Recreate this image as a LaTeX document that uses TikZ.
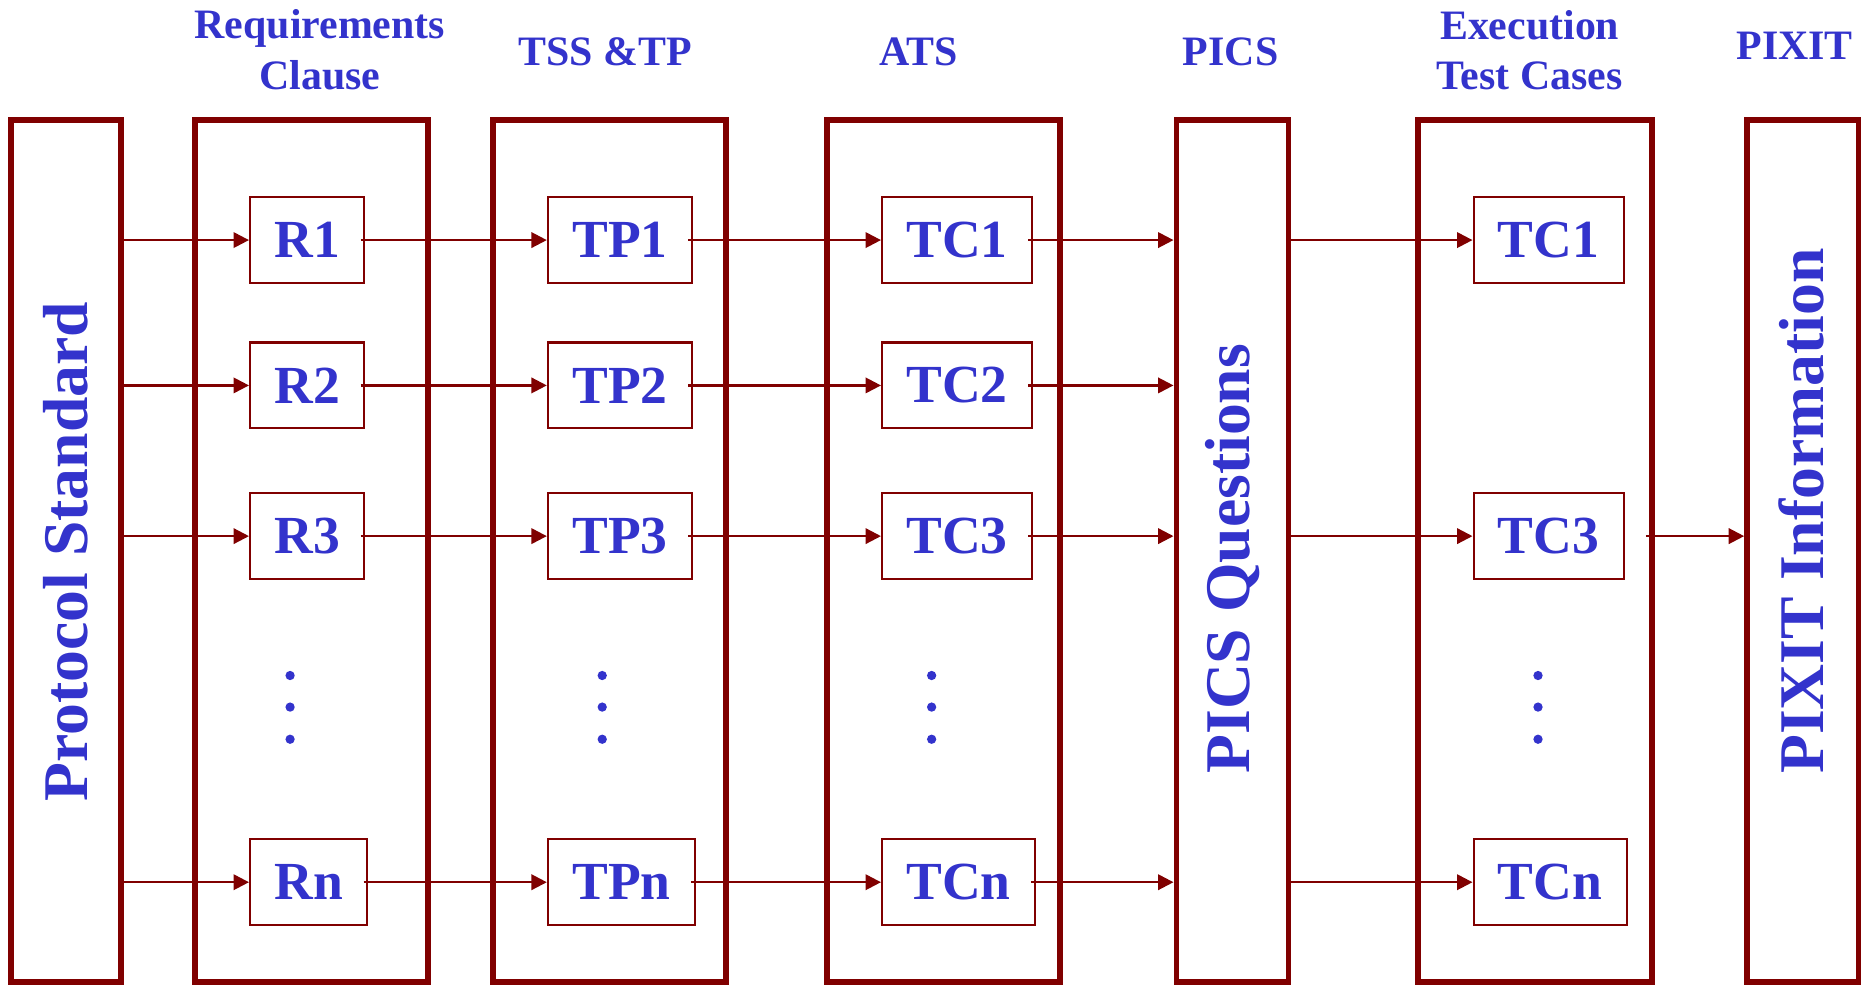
\documentclass[tikz,border=0pt]{standalone}
\usepackage{fontspec}
\setmainfont{Liberation Serif}
\usetikzlibrary{arrows.meta}
\definecolor{boxred}{HTML}{800000}
\definecolor{textblue}{HTML}{3333CC}

\tikzset{
	column/.style={draw=boxred, line width=1.4pt, minimum height=7.24cm, inner sep=0pt},
	item/.style={draw=boxred, line width=0.5pt, text=textblue, font=\bfseries\fontsize{12.8}{15}\selectfont, minimum height=0.72cm, inner xsep=0.205cm, inner ysep=0pt, anchor=west},
	head/.style={text=textblue, font=\bfseries\fontsize{10}{12.1}\selectfont, align=center},
	vert/.style={text=textblue, font=\bfseries\fontsize{15.2}{18}\selectfont, rotate=90},
	flow/.style={draw=boxred, line width=0.55pt, -{Triangle[length=0.13cm, width=0.13cm]}},
}

\begin{document}
\begin{tikzpicture}
	\useasboundingbox (0, 0) rectangle (15.68, -8.27);

	% columns
	\node[column, minimum width=0.92cm] (ps) at (0.555, -4.625) {};
	\node[column, minimum width=1.96cm] (req) at (2.615, -4.625) {};
	\node[column, minimum width=1.96cm] (tss) at (5.115, -4.625) {};
	\node[column, minimum width=1.96cm] (ats) at (7.92, -4.625) {};
	\node[column, minimum width=0.94cm] (pics) at (10.345, -4.625) {};
	\node[column, minimum width=1.97cm] (exe) at (12.885, -4.625) {};
	\node[column, minimum width=0.935cm] (pixit) at (15.1325, -4.625) {};

	% headings
	\node[head] (reqhead) at (2.685, -0.42) {Requirements\\Clause};
	\node[head, anchor=base] (tsshead) at (5.08, -0.546) {TSS \&TP};
	\node[head, anchor=base] (atshead) at (7.71, -0.546) {ATS};
	\node[head, anchor=base] (picshead) at (10.33, -0.546) {PICS};
	\node[head] (exehead) at (12.84, -0.42) {Execution\\Test Cases};
	\node[head, anchor=base] (pixithead) at (15.065, -0.50) {PIXIT};

	% rotated texts
	\node[vert] (pstext) at (0.55, -4.63) {Protocol Standard};
	\node[vert] (picstext) at (10.35, -4.69) {PICS Questions};
	\node[vert] (pixittext) at (15.12, -4.29) {PIXIT Information};

	% requirements
	\node[item] (r1) at (2.09, -2.015) {R1};
	\node[item] (r2) at (2.09, -3.235) {R2};
	\node[item] (r3) at (2.09, -4.50) {R3};
	\node[item] (rn) at (2.09, -7.405) {Rn};

	% test purposes
	\node[item] (tp1) at (4.59, -2.015) {TP1};
	\node[item] (tp2) at (4.59, -3.235) {TP2};
	\node[item] (tp3) at (4.59, -4.50) {TP3};
	\node[item] (tpn) at (4.59, -7.405) {TPn};

	% abstract test cases
	\node[item] (tc1) at (7.395, -2.015) {TC1};
	\node[item] (tc2) at (7.395, -3.235) {TC2};
	\node[item] (tc3) at (7.395, -4.50) {TC3};
	\node[item] (tcn) at (7.395, -7.405) {TCn};

	% executed test cases
	\node[item] (etc1) at (12.36, -2.015) {TC1};
	\node[item] (etc3) at (12.36, -4.50) {TC3};
	\node[item] (etcn) at (12.36, -7.405) {TCn};

	% dots
	\foreach \x in {2.435, 5.055, 7.82, 12.91}
		\foreach \y in {-5.67, -5.935, -6.205}
			\fill[textblue] (\x, \y) circle (0.039cm);

	% arrows
	\foreach \r/\t/\c in {r1/tp1/tc1, r2/tp2/tc2, r3/tp3/tc3, rn/tpn/tcn} {
		\draw[flow] ([xshift=-0.035cm]ps.east |- \r) -- (\r);
		\draw[flow] ([xshift=-0.04cm]\r.east) -- (\t);
		\draw[flow] ([xshift=-0.04cm]\t.east) -- (\c);
		\draw[flow] ([xshift=-0.04cm]\c.east) -- (pics.west |- \c);
	}
	\foreach \e in {etc1, etc3, etcn}
		\draw[flow] ([xshift=-0.035cm]pics.east |- \e) -- (\e);
	\draw[flow] ([xshift=-0.08cm]exe.east |- etc3) -- (pixit.west |- etc3);
\end{tikzpicture}
\end{document}
